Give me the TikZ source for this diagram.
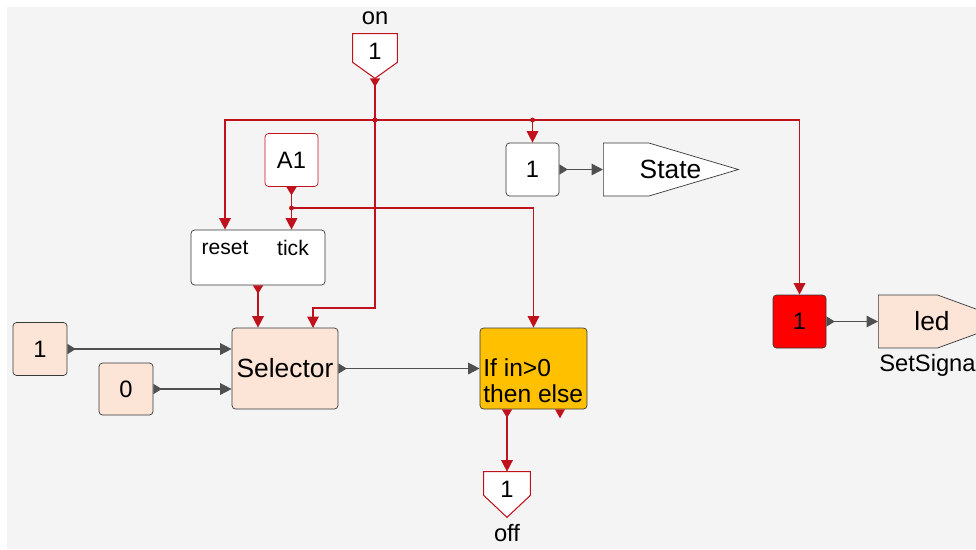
\documentclass[tikz,border=0pt]{standalone}
\usepackage{fontspec}
\setmainfont{Liberation Sans}
\usetikzlibrary{positioning,arrows.meta,shapes.symbols}
\definecolor{canvas}{HTML}{F4F4F4}
\definecolor{sigred}{HTML}{C0121C}
\definecolor{peach}{HTML}{FCE4D6}
\definecolor{amber}{HTML}{FFC000}
\definecolor{wire}{HTML}{505050}
\definecolor{edge}{HTML}{383838}
\tikzset{
  blk/.style={draw=edge, rounded corners=2pt, fill=white, minimum width=1.06cm, minimum height=1.06cm, inner sep=0pt, font=\fontsize{13.5}{15}\selectfont},
  constblk/.style={blk, fill=peach, minimum width=1.08cm},
  portbody/.style={inner sep=0pt, font=\fontsize{13.5}{15}\selectfont},
  portline/.style={draw=sigred, fill=white, line width=0.6pt},
  sigout/.style={signal, signal to=east, draw=edge, inner sep=0pt, anchor=west},
  lbl/.style={inner sep=0pt, font=\fontsize{13.5}{15}\selectfont},
  biglbl/.style={inner sep=0pt, font=\fontsize{15}{17}\selectfont},
  smalllbl/.style={inner sep=0pt, font=\fontsize{12}{14}\selectfont},
  sigarrow/.style={draw=sigred, line width=0.85pt, -{Triangle[length=2.3mm, width=2.3mm]}},
  sigflow/.style={sigarrow, {Triangle[reversed, length=1.7mm, width=2mm]}-{Triangle[length=2.3mm, width=2.3mm]}},
  dataflow/.style={draw=wire, line width=0.85pt, {Triangle[reversed, length=1.7mm, width=2mm]}-{Triangle[length=2.3mm, width=2.3mm]}}
}

\begin{document}
\begin{tikzpicture}[x=0.02cm, y=-0.02cm]
  \useasboundingbox (0,0) rectangle (976,549);
  \fill[white] (0,0) rectangle (976,549);
  \fill[canvas] (7,7) rectangle (976,549);

  % in/out ports
  \node[portbody, minimum width=0.88cm, minimum height=0.56cm] (on) at (375,48) {};
  \coordinate (onTip) at ([yshift=-0.32cm]on.south);
  \draw[portline] (on.north west) -- (on.north east) -- (on.south east) -- (onTip) -- (on.south west) -- cycle;
  \node[portbody] (onNum) at (375,51) {1};
  \node[lbl] (onLbl) at (375,18) {on};
  \node[portbody, minimum width=0.92cm, minimum height=0.46cm] (offp) at (507,483.5) {};
  \coordinate (offTip) at ([yshift=-0.44cm]offp.south);
  \draw[portline] (offp.north west) -- (offp.north east) -- (offp.south east) -- (offTip) -- (offp.south west) -- cycle;
  \node[portbody] (offNum) at (507,489) {1};
  \node[lbl] (offLbl) at (507,533) {off};

  % blocks
  \node[blk, draw=sigred] (a1) at (291.5,160) {A1};
  \node[blk, minimum width=2.68cm, minimum height=1.1cm] (ctr) at (258,257.5) {};
  \node[smalllbl] (rst) at (225,248) {reset};
  \node[smalllbl] (tck) at (293,248) {tick};
  \node[constblk] (c1) at (40,349) {1};
  \node[constblk, minimum height=1.04cm] (c0) at (126,389) {0};
  \node[blk, fill=peach, minimum width=2.12cm, minimum height=1.62cm, font=\fontsize{15}{17}\selectfont] (sel) at (285,368.5) {Selector};
  \node[blk, fill=amber, minimum width=2.14cm, minimum height=1.62cm] (ite) at (533.5,368.5) {};
  \node[lbl, anchor=west, align=left, font=\fontsize{14}{15}\selectfont] (iteLbl) at (483,381) {If in>0\\then else};
  \node[blk] (one) at (532.5,169.5) {1};
  \node[sigout, fill=white, minimum width=2.7cm, minimum height=1.06cm, signal pointer angle=33] (state) at (603,169.5) {};
  \node[biglbl] (stateLbl) at (670.5,169.5) {State};
  \node[blk, fill=red] (red1) at (799.5,321.5) {1};
  \node[sigout, fill=peach, minimum width=2.64cm, minimum height=1.06cm, signal pointer angle=40] (led) at (878,321.5) {};
  \node[biglbl] (ledLbl) at (932,321.5) {led};
  \node[lbl, anchor=west] (setLbl) at (879,365) {SetSignal};

  % bends
  \coordinate (busY) at (0,120);
  \coordinate (tapY) at (0,208);
  \coordinate (onY) at (0,308);
  \coordinate (selOn) at (313,328);
  \coordinate (j1) at (onTip |- busY);
  \coordinate (j2) at (one.north |- busY);
  \coordinate (jA) at (a1.south |- tapY);

  % red signal lines
  \draw[sigflow] (onTip) -- (onTip |- onY) -| (selOn);
  \draw[sigarrow] (j1) -| (ctr.north -| rst);
  \draw[sigarrow] (j1) -| (red1.north);
  \draw[sigarrow] (j2) -- (one.north);
  \draw[sigflow] (a1.south) -- (ctr.north -| a1.south);
  \draw[sigarrow] (jA) -| (ite.north);
  \draw[sigflow] (ctr.south) -- (sel.north -| ctr.south);
  \draw[sigflow] (ite.south -| offp.north) -- (offp.north);
  \fill[sigred] ([xshift=0.43cm]ite.south) -- ([xshift=0.63cm]ite.south) -- ([xshift=0.53cm, yshift=-0.18cm]ite.south) -- cycle;
  \fill[sigred] (j1) circle (1.4pt) (j2) circle (1.4pt) (jA) circle (1.4pt);

  % data lines
  \draw[dataflow] (c1.east) -- (c1.east -| sel.west);
  \draw[dataflow] (c0.east) -- (c0.east -| sel.west);
  \draw[dataflow] (sel.east) -- (ite.west);
  \draw[dataflow] (one.east) -- (state.west);
  \draw[dataflow] (red1.east) -- (led.west);
\end{tikzpicture}
\end{document}
